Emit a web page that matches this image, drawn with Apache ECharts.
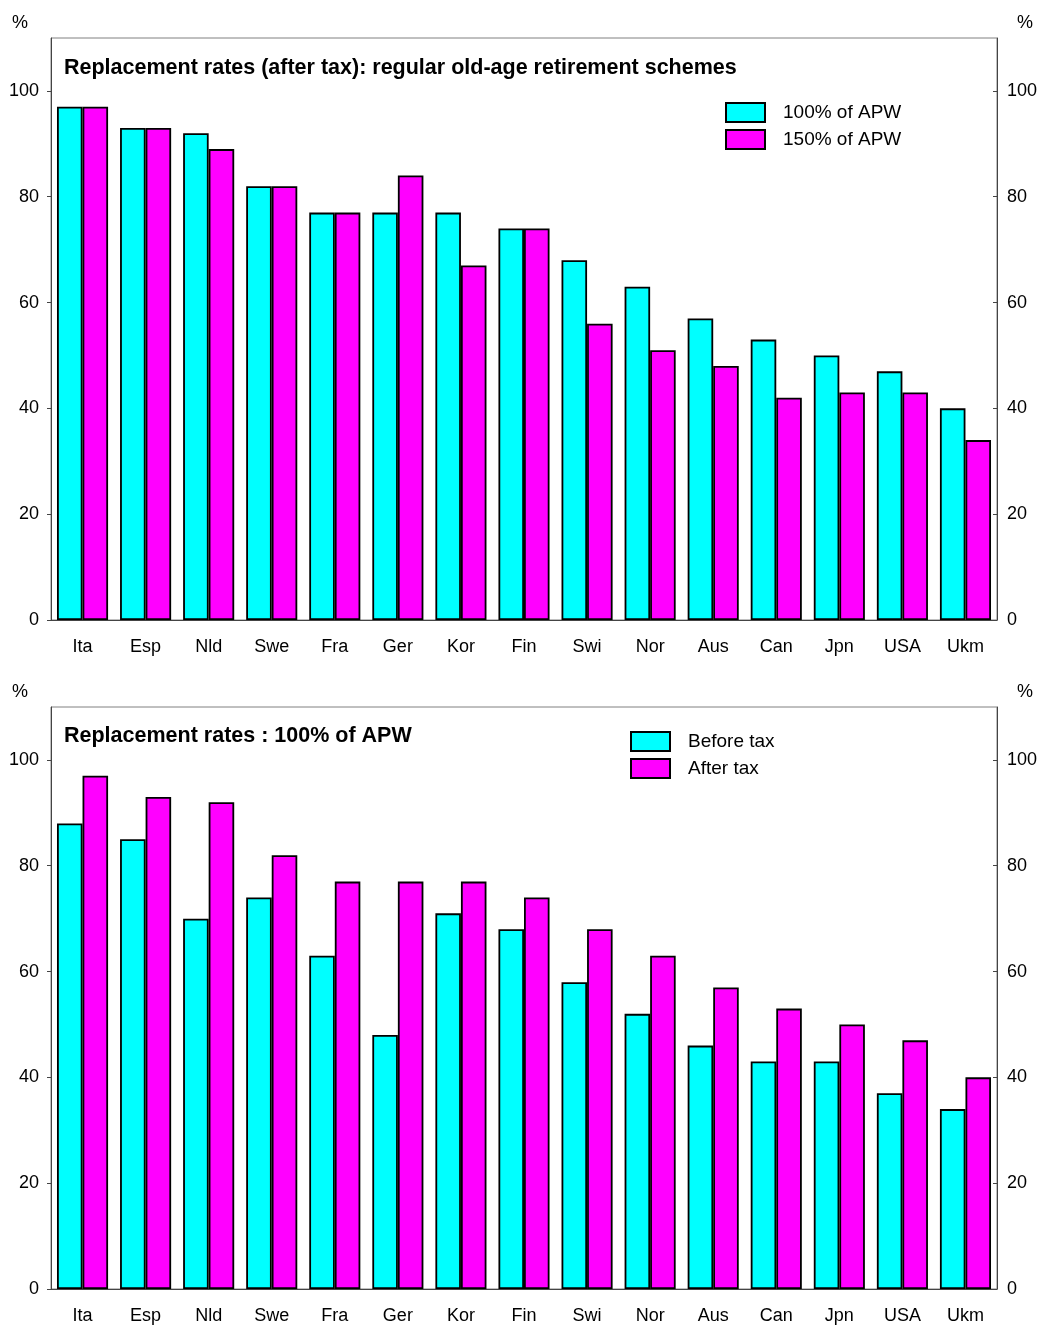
<!DOCTYPE html>
<html><head><meta charset="utf-8">
<script src="https://cdn.jsdelivr.net/npm/echarts@6/dist/echarts.min.js"></script>
<style>html,body{margin:0;padding:0;background:#fff}#c{width:1042px;height:1325px}</style>
</head><body><div id="c"></div>
<script>
const categories = ['Ita','Esp','Nld','Swe','Fra','Ger','Kor','Fin','Swi','Nor','Aus','Can','Jpn','USA','Ukm'];
const topApw100 = [97,93,92,82,77,77,77,74,68,63,57,53,50,47,40];
const topApw150 = [97,93,89,82,77,84,67,74,56,51,48,42,43,43,34];
const botBefore = [88,85,70,74,63,48,71,68,58,52,46,43,43,37,34];
const botAfter  = [97,93,92,82,77,77,77,74,68,63,57,53,50,47,40];
const yTicks = [0,20,40,60,80,100];

const FONT = '"Liberation Sans", Arial, sans-serif';
const CYAN = '#00ffff', MAG = '#ff00ff';
const chart = echarts.init(document.getElementById('c'), null, {renderer:'canvas'});

function xAxis(gi){
  return {type:'category', gridIndex:gi, data:categories,
    axisLine:{show:true, lineStyle:{color:'#444', width:1}},
    axisTick:{show:false},
    axisLabel:{color:'#000', fontSize:18, fontFamily:FONT, margin:18, interval:0}};
}
function yAxis(gi, pos){
  return {type:'value', gridIndex:gi, position:pos, min:0, max:110, interval:20,
    splitLine:{show:false},
    axisLine:{show:true, lineStyle:{color:'#444', width:1}},
    axisTick:{show:true, inside: pos==='right', length:4, lineStyle:{color:'#444'}, customValues:yTicks},
    axisLabel:{color:'#000', fontSize:18, fontFamily:FONT, margin: pos==='right' ? 10 : 12, customValues:yTicks}};
}
function bar(name, data, color, ax){
  return {type:'bar', name, data, xAxisIndex:ax, yAxisIndex:ax*2,
    barGap:'0%', barCategoryGap:'19%',
    itemStyle:{color, borderColor:'#000', borderWidth:1.8},
    emphasis:{disabled:true}, animation:false};
}
const legendText = {color:'#000', fontSize:19, fontFamily:FONT, padding:[0,0,0,13]};
const pctStyle = {text:'%', fontSize:18, fontFamily:FONT, fill:'#000'};
chart.setOption({
  animation:false,
  grid:[
    {left:51, right:45, top:38, height:582, show:true, borderColor:'#808080', borderWidth:1},
    {left:51, right:45, top:707, height:582, show:true, borderColor:'#808080', borderWidth:1}
  ],
  title:[
    {text:'Replacement rates (after tax): regular old-age retirement schemes', left:59, top:52,
     textStyle:{fontSize:21.5, fontWeight:'bold', fontFamily:FONT, color:'#000'}},
    {text:'Replacement rates : 100% of APW', left:59, top:720,
     textStyle:{fontSize:21.5, fontWeight:'bold', fontFamily:FONT, color:'#000'}}
  ],
  legend:[
    {data:['100% of APW','150% of APW'], orient:'vertical', left:725, top:102, padding:0,
     itemWidth:39, itemHeight:19, itemGap:6, textStyle:legendText, icon:'rect', selectedMode:false},
    {data:['Before tax','After tax'], orient:'vertical', left:630, top:731, padding:0,
     itemWidth:39, itemHeight:19, itemGap:6, textStyle:legendText, icon:'rect', selectedMode:false}
  ],
  xAxis:[xAxis(0), xAxis(1)],
  yAxis:[yAxis(0,'left'), yAxis(0,'right'), yAxis(1,'left'), yAxis(1,'right')],
  series:[
    bar('100% of APW', topApw100, CYAN, 0),
    bar('150% of APW', topApw150, MAG, 0),
    bar('Before tax', botBefore, CYAN, 1),
    bar('After tax', botAfter, MAG, 1)
  ],
  graphic:[
    {type:'text', left:12, top:14, style:pctStyle},
    {type:'text', left:1017, top:14, style:pctStyle},
    {type:'text', left:12, top:683, style:pctStyle},
    {type:'text', left:1017, top:683, style:pctStyle}
  ]
});
</script></body></html>
